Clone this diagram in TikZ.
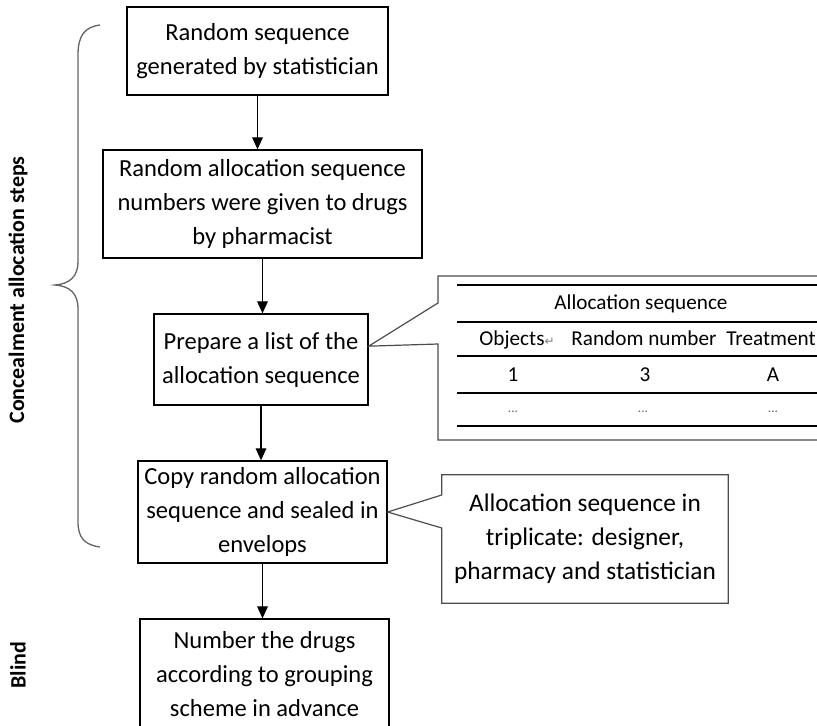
\documentclass[tikz,border=0pt]{standalone}
\usepackage{fontspec}
\setmainfont{Carlito}
\newfontfamily\symfont{DejaVu Sans}
\usetikzlibrary{arrows.meta}
\begin{document}
\begin{tikzpicture}[x=0.75pt,y=0.75pt,yscale=-1,xscale=1,
  stepbox/.style={draw, line width=1pt, align=center, inner sep=0pt, font=\fontsize{18.4}{25.5}\selectfont},
  flow/.style={-{Triangle[width=8pt,length=9pt]}, line width=0.9pt},
  callout/.style={draw=black!70, line width=0.9pt},
  tabrule/.style={line width=1.1pt},
  tabtext/.style={font=\fontsize{15.9}{19}\selectfont, anchor=base},
  sidelabel/.style={rotate=90, font=\bfseries\fontsize{16.5}{20}\selectfont}]
%set diagram to the size of the page
\clip (0,0) rectangle (817,725);

%Shape: Rectangle
\node [stepbox, minimum width=261*0.75pt, minimum height=88*0.75pt] (seq) at (257.5,51) {Random sequence\\generated by statistician};
%Shape: Rectangle
\node [stepbox, minimum width=319*0.75pt, minimum height=108*0.75pt] (alloc) at (262.5,204) {Random allocation sequence\\numbers were given to drugs\\by pharmacist};
%Shape: Rectangle
\node [stepbox, minimum width=214*0.75pt, minimum height=91*0.75pt] (plan) at (261,359.5) {Prepare a list of the\\allocation sequence};
%Shape: Rectangle
\node [stepbox, minimum width=249*0.75pt, minimum height=102*0.75pt] (env) at (262.5,512) {Copy random allocation\\sequence and sealed in\\envelops};
%Shape: Rectangle
\node [stepbox, minimum width=249*0.75pt, minimum height=110*0.75pt] (drugs) at (264.5,674) {Number the drugs\\according to grouping\\scheme in advance};

%Straight Lines
\draw [flow] (seq.south) -- (seq.south |- alloc.north);
\draw [flow] (alloc.south) -- (alloc.south |- plan.north);
\draw [flow] (plan.south) -- (plan.south |- env.north);
\draw [flow] (env.south) -- (env.south |- drugs.north);

%Shape: Callout (table)
\draw [callout] (438,303) -- ([yshift=-10pt]plan.east) -- (438,344) -- (438,440) -- (830,440) -- (830,276) -- (438,276) -- cycle;
\foreach \y in {285,322,356,393,426} {
  \draw [tabrule] (457,\y) -- (830,\y);
}
% Text Node
\node [tabtext] (tabtitle) at (641,309) {Allocation sequence};
% Text Node
\node [tabtext] (colobj) at (517,345) {Objects{\symfont\fontsize{9}{9}\selectfont\color{black!50}↵}};
% Text Node
\node [tabtext] (colrand) at (644,345) {Random number};
% Text Node
\node [tabtext, anchor=base east, inner sep=0pt] (coltreat) at (816,345) {Treatment};
% Text Node
\node [tabtext] (obj) at (513,381) {1};
\node [tabtext] (rand) at (645,381) {3};
\node [tabtext] (treat) at (773,381) {A};
% Text Node
\foreach \x/\n in {513/a,643/b,773/c} {
  \node [text=black!60, font=\fontsize{10}{12}\selectfont] (dots\n) at (\x,412) {...};
}

%Shape: Callout (note)
\node [align=center, font=\fontsize{19}{25.5}\selectfont, minimum width=286*0.75pt, minimum height=128*0.75pt] (note) at (585,539) {Allocation sequence in\\triplicate: designer,\\pharmacy and statistician};
\draw [callout] ([yshift=-33pt]note.west) -- (env.east) -- ([yshift=-8.25pt]note.west) -- (note.south west) -- (note.south east) -- (note.north east) -- (note.north west) -- cycle;

%Curve Lines (brace)
\draw [black!60, line width=1pt] (100,25) .. controls (85,27) and (78,35) .. (78,55) -- (78,262) .. controls (78,276) and (70,284) .. (55,285) .. controls (70,286) and (78,294) .. (78,308) -- (78,522) .. controls (78,538) and (85,545) .. (100,547);

% Text Node
\node [sidelabel] (conceal) at (18,290) {Concealment allocation steps};
% Text Node
\node [sidelabel] (blind) at (18,665) {Blind};
\end{tikzpicture}
\end{document}
